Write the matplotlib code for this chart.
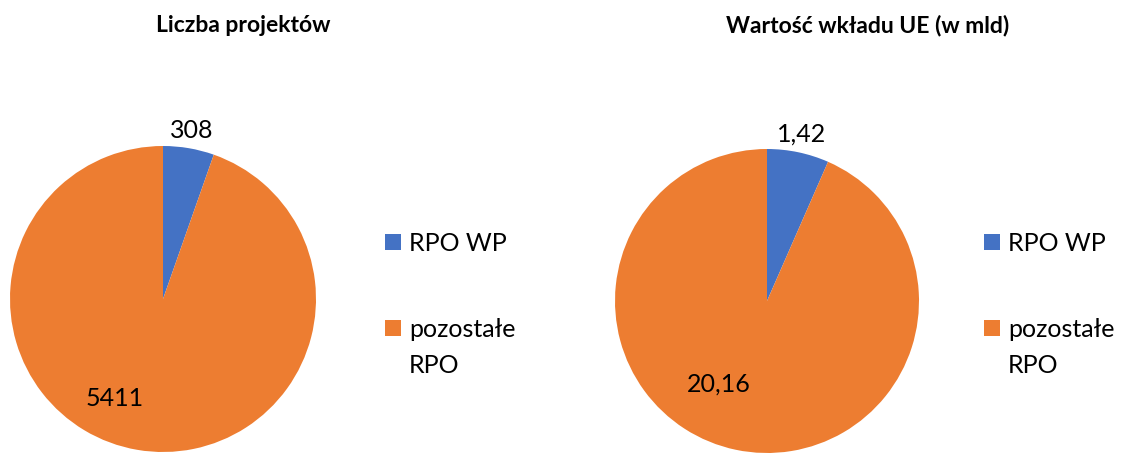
import numpy as np
from matplotlib import pyplot as plt
from matplotlib.patches import Rectangle

plt.rcParams['font.family'] = ['Lato', 'DejaVu Sans']

categories = ['RPO WP', 'pozostałe\nRPO']
projects = [308, 5411]
eu_value = [1.42, 20.16]
titles = ['Liczba projektów', 'Wartość wkładu UE (w mld)']
label_text = [['308', '5411'], ['1,42', '20,16']]
colors = ['#4472C4', '#ED7D31']

fig = plt.figure(figsize=(11.31, 4.57), dpi=100)

# pie axes placed in pixel terms: centre x, centre y (from top), radius
W, H = 1131, 457
pies = [(163, 299, 153), (767, 301, 152)]
# where excel put the orange label (radius, angle in degrees)
inner = [(0.72, -116), (0.63, -120)]
legend_x = [385, 984]
legend_base = [251, 337]   # baseline of first line of each entry (px from top)

for i, vals in enumerate([projects, eu_value]):
    cx, cy, r = pies[i]
    ax = fig.add_axes([(cx - r) / W, (H - cy - r) / H, 2 * r / W, 2 * r / H])
    wedges, texts = ax.pie(vals, colors=colors, startangle=90, counterclock=False,
                           labels=label_text[i], labeldistance=1.12,
                           textprops=dict(fontsize=18, color='black'))
    for t in texts:
        t.set_ha('center')
        t.set_va('center')
    rr, ang = inner[i]
    a = np.deg2rad(ang)
    texts[1].set_position((rr * np.cos(a), rr * np.sin(a)))
    ax.set_xlim(-1, 1)
    ax.set_ylim(-1, 1)
    ax.set_aspect('equal')

    fig.text([243, 868][i] / W, 1 - 25 / H, titles[i], ha='center', va='center',
             fontsize=16.5, fontweight='bold')

    # legend, drawn by hand so the square sits on the first line
    lx = legend_x[i]
    for w, name, base in zip(wedges, categories, legend_base):
        fig.add_artist(Rectangle((lx / W, 1 - (base - 1) / H), 16 / W, 16 / H,
                                 transform=fig.transFigure,
                                 facecolor=w.get_facecolor(), edgecolor='none'))
        for k, line in enumerate(name.split('\n')):
            fig.text((lx + 24) / W, 1 - (base + 36 * k) / H, line,
                     ha='left', va='baseline', fontsize=18)

fig.savefig('out.png', dpi=100)
